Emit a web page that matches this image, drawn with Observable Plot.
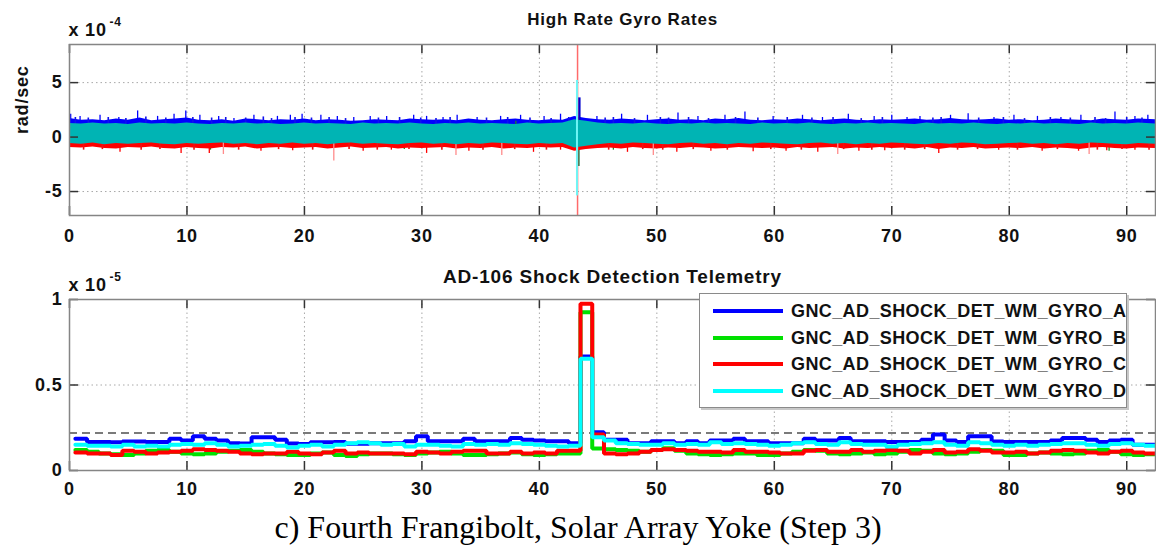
<!DOCTYPE html>
<html>
<head>
<meta charset="utf-8">
<script src="https://cdn.jsdelivr.net/npm/d3@7"></script>
<script src="https://cdn.jsdelivr.net/npm/@observablehq/plot@0.6"></script>
<style>
  body { margin: 0; background: #fff; }
  #wrap { position: relative; width: 1156px; height: 549px; overflow: hidden; background: #fff;
          font-family: "Liberation Sans", Arial, sans-serif; }
  #top { position: absolute; left: 0; top: 0; }
  #bottom { position: absolute; left: 0; top: 248px; }
  #legend { position: absolute; left: 699px; top: 293px; width: 428px; height: 115px;
            box-sizing: border-box; border: 1px solid #8a8a8a; background: #fff;
            box-shadow: 2px 2px 0 #c8c8c8; }
  .entry { position: absolute; left: 0; height: 26px; width: 100%; }
  .swatch { position: absolute; left: 13px; top: 11px; width: 70px; height: 4px; }
  .name { position: absolute; left: 91px; top: 0; line-height: 26px; font-size: 18px; font-weight: bold;
          letter-spacing: 0.4px; color: #111; white-space: nowrap; }
  #caption { position: absolute; left: 0; top: 511px; width: 1156px; text-align: center; line-height: 32px;
             font-family: "Liberation Serif", "Times New Roman", serif; font-size: 32px; color: #000; }
</style>
</head>
<body>
<div id="wrap">
  <div id="top"></div>
  <div id="bottom"></div>
  <div id="legend"></div>
  <div id="caption">c) Fourth Frangibolt, Solar Array Yoke (Step 3)</div>
</div>
<script>
// ---------- shared axis settings ----------
const xMax = 92.45;
const xTicks = [0, 10, 20, 30, 40, 50, 60, 70, 80, 90];

// ---------- High Rate Gyro Rates (units of 1e-4 rad/sec), 1 s envelope samples ----------
const gyroT = [
  0, 1, 2, 3, 4, 5, 6, 7, 8, 9,
  10, 11, 12, 13, 14, 15, 16, 17, 18, 19,
  20, 21, 22, 23, 24, 25, 26, 27, 28, 29,
  30, 31, 32, 33, 34, 35, 36, 37, 38, 39,
  40, 41, 42, 43, 44, 45, 46, 47, 48, 49,
  50, 51, 52, 53, 54, 55, 56, 57, 58, 59,
  60, 61, 62, 63, 64, 65, 66, 67, 68, 69,
  70, 71, 72, 73, 74, 75, 76, 77, 78, 79,
  80, 81, 82, 83, 84, 85, 86, 87, 88, 89,
  90, 91, 92.45
];
// upper edge of gyro A (blue) noise
const blueHi = [
  1.70, 1.55, 1.60, 1.50, 1.65, 1.55, 1.75, 1.50, 1.60, 1.65,
  1.75, 1.55, 1.50, 1.60, 1.45, 1.65, 1.60, 1.50, 1.60, 1.55,
  1.65, 1.50, 1.60, 1.55, 1.45, 1.50, 1.60, 1.55, 1.50, 1.65,
  1.60, 1.55, 1.60, 1.50, 1.65, 1.55, 1.50, 1.60, 1.65, 1.55,
  1.50, 1.60, 1.55, 1.90, 1.70, 1.60, 1.55, 1.65, 1.60, 1.50,
  1.60, 1.65, 1.55, 1.60, 1.50, 1.65, 1.60, 1.70, 1.55, 1.50,
  1.60, 1.55, 1.65, 1.60, 1.50, 1.60, 1.65, 1.55, 1.50, 1.60,
  1.55, 1.60, 1.65, 1.55, 1.60, 1.70, 1.60, 1.55, 1.60, 1.65,
  1.55, 1.60, 1.50, 1.55, 1.65, 1.60, 1.55, 1.50, 1.65, 1.60,
  1.55, 1.65, 1.60
];
// lower edge of gyro C (red) noise
const redLo = [
  -0.95, -1.00, -0.90, -1.05, -1.10, -0.95, -1.00, -0.90, -1.05, -1.10,
  -0.95, -1.05, -1.10, -0.95, -1.00, -0.90, -1.10, -1.00, -0.95, -1.05,
  -1.00, -0.95, -1.10, -1.00, -0.90, -1.05, -1.00, -0.95, -1.10, -1.00,
  -1.05, -1.00, -0.95, -1.10, -1.00, -1.05, -0.95, -1.10, -1.00, -1.05,
  -0.95, -1.00, -0.95, -1.30, -1.15, -1.05, -1.00, -1.10, -0.95, -1.05,
  -1.10, -1.00, -1.05, -0.95, -1.00, -1.10, -1.05, -0.95, -1.00, -1.05,
  -1.00, -1.10, -0.95, -1.05, -1.00, -0.95, -1.10, -1.00, -1.05, -0.95,
  -1.05, -1.00, -1.10, -0.95, -1.15, -1.00, -1.05, -0.95, -1.10, -1.05,
  -1.00, -1.05, -0.95, -1.10, -1.00, -1.05, -1.15, -1.00, -0.95, -1.05,
  -1.10, -1.00, -1.05
];
// gyro D (cyan) noise band
const tealHi = [
  1.25, 1.20, 1.30, 1.20, 1.25, 1.15, 1.30, 1.20, 1.25, 1.20,
  1.30, 1.20, 1.15, 1.25, 1.20, 1.30, 1.20, 1.25, 1.15, 1.20,
  1.30, 1.20, 1.25, 1.20, 1.15, 1.30, 1.20, 1.25, 1.20, 1.30,
  1.20, 1.15, 1.25, 1.20, 1.30, 1.20, 1.25, 1.20, 1.15, 1.30,
  1.20, 1.25, 1.30, 1.60, 1.45, 1.30, 1.20, 1.25, 1.20, 1.30,
  1.20, 1.15, 1.25, 1.20, 1.30, 1.20, 1.25, 1.20, 1.15, 1.30,
  1.20, 1.25, 1.20, 1.30, 1.20, 1.15, 1.25, 1.20, 1.30, 1.20,
  1.25, 1.20, 1.15, 1.30, 1.20, 1.25, 1.20, 1.30, 1.20, 1.15,
  1.25, 1.20, 1.30, 1.20, 1.25, 1.20, 1.15, 1.30, 1.20, 1.25,
  1.20, 1.30, 1.20
];
const tealLo = [
  -0.60, -0.65, -0.55, -0.70, -0.60, -0.65, -0.60, -0.55, -0.65, -0.70,
  -0.60, -0.65, -0.60, -0.55, -0.65, -0.60, -0.70, -0.60, -0.65, -0.55,
  -0.65, -0.60, -0.70, -0.60, -0.55, -0.65, -0.60, -0.65, -0.70, -0.60,
  -0.55, -0.65, -0.60, -0.70, -0.60, -0.65, -0.55, -0.60, -0.65, -0.70,
  -0.60, -0.65, -0.60, -1.00, -0.85, -0.70, -0.60, -0.65, -0.55, -0.60,
  -0.65, -0.70, -0.60, -0.55, -0.65, -0.60, -0.70, -0.60, -0.65, -0.55,
  -0.60, -0.65, -0.70, -0.60, -0.55, -0.65, -0.60, -0.70, -0.60, -0.65,
  -0.55, -0.60, -0.65, -0.70, -0.60, -0.65, -0.55, -0.60, -0.70, -0.65,
  -0.60, -0.55, -0.65, -0.60, -0.70, -0.60, -0.65, -0.55, -0.60, -0.65,
  -0.70, -0.60, -0.65
];
// individual noise peaks [time s, value]
const blueSpikes = [
  [0.1, 2.1], [0.9, 1.9], [2.6, 2.0], [4.2, 1.8], [5.8, 2.4], [7.5, 1.9], [8.9, 2.1], [9.9, 2.4],
  [11.1, 2.0], [12.7, 1.9], [14.0, 1.7], [15.7, 2.0], [17.7, 1.9], [18.8, 2.0], [19.8, 2.1],
  [21.4, 2.0], [22.8, 1.9], [24.2, 1.8], [25.6, 1.9], [27.0, 1.9], [29.3, 2.0], [30.4, 1.9],
  [31.8, 1.8], [33.0, 2.0], [34.7, 1.8], [36.7, 1.9], [38.4, 2.0], [40.4, 1.9], [41.8, 2.1],
  [44.9, 1.9], [47.0, 2.1], [49.2, 2.0], [51.8, 2.2], [53.5, 1.9], [55.8, 2.0], [57.5, 2.3],
  [59.9, 1.9], [62.4, 2.0], [64.1, 1.8], [66.3, 2.1], [68.5, 1.9], [70.0, 2.0], [71.3, 1.8],
  [72.4, 1.9], [75.0, 2.0], [76.5, 2.15], [78.7, 1.8], [80.4, 2.0], [82.4, 1.9], [84.4, 1.8],
  [86.1, 2.0], [89.0, 2.3], [90.7, 1.9], [91.8, 2.0]
];
// smaller peaks along the blue edge
const blueMinorSpikes = [
  [0.5, 1.8], [1.6, 1.75], [3.3, 1.8], [4.8, 1.7], [6.5, 1.85], [8.2, 1.75], [10.5, 1.8], [12.1, 1.75],
  [13.3, 1.8], [15.0, 1.75], [16.5, 1.85], [17.2, 1.7], [19.2, 1.8], [20.6, 1.75], [22.1, 1.8],
  [23.5, 1.7], [26.3, 1.75], [28.1, 1.8], [29.9, 1.75], [31.2, 1.7], [32.4, 1.8], [35.5, 1.75],
  [37.3, 1.8], [39.2, 1.75], [41.0, 1.7], [42.5, 1.8], [45.6, 1.75], [46.3, 1.8], [48.1, 1.7],
  [50.3, 1.8], [51.0, 1.75], [52.7, 1.8], [54.4, 1.7], [56.7, 1.8], [58.6, 1.75], [61.1, 1.8],
  [63.2, 1.75], [65.0, 1.8], [67.4, 1.7], [69.2, 1.8], [73.5, 1.75], [74.2, 1.8], [77.4, 1.75],
  [79.5, 1.8], [81.3, 1.7], [83.5, 1.8], [85.2, 1.75], [87.3, 1.8], [88.2, 1.7], [90.0, 1.8], [91.3, 1.75]
];
const redSpikes = [
  [4.3, -1.4], [9.5, -1.5], [11.9, -1.5], [16.3, -1.3], [19.0, -1.25], [25.0, -1.3], [27.4, -1.2],
  [30.4, -1.5], [34.0, -1.3], [39.5, -1.4], [41.8, -1.2], [47.5, -1.4], [51.7, -1.4], [54.6, -1.3],
  [58.2, -1.35], [61.0, -1.3], [63.7, -1.4], [67.2, -1.3], [69.4, -1.25], [74.0, -1.5], [79.1, -1.2],
  [82.8, -1.3], [85.9, -1.3], [88.3, -1.25], [90.7, -1.2]
];
const redMinorSpikes = [
  [1.2, -1.2], [2.8, -1.15], [6.1, -1.2], [7.7, -1.15], [10.6, -1.2], [14.4, -1.2], [17.8, -1.15],
  [20.7, -1.2], [23.8, -1.15], [26.2, -1.2], [28.9, -1.15], [31.7, -1.2], [35.2, -1.2], [37.9, -1.15],
  [40.6, -1.2], [45.9, -1.2], [48.8, -1.15], [50.5, -1.2], [53.1, -1.15], [56.0, -1.2], [59.7, -1.15],
  [62.3, -1.2], [65.9, -1.15], [68.3, -1.2], [71.1, -1.2], [72.8, -1.15], [75.6, -1.2], [77.3, -1.15],
  [80.7, -1.2], [84.1, -1.15], [87.5, -1.2], [89.6, -1.15], [91.9, -1.2]
];
const redFaintSpikes = [
  [13.1, -1.6], [22.5, -2.2], [32.9, -1.7], [36.8, -1.7], [49.7, -1.7], [65.4, -1.6], [86.8, -1.6]
];
const greenSpikes = [
  [12.0, -1.2], [28.5, -1.15], [38.0, 1.45], [46.3, -1.2], [88.5, -1.3]
];
// frangibolt firing transient: [time s, low, high]
const shockBlue = [[43.4, 1.2, 3.6]];
const shockGreen = [[43.3, -2.7, -0.5]];
const shockRed = [[43.25, -7.2, 8.5]];
const shockCyan = [[43.2, -5.4, 5.2]];

// ---------- AD-106 Shock Detection Telemetry (units of 1e-5), 1 s steps from t = 0.5 ----------
const seriesNames = [
  "GNC_AD_SHOCK_DET_WM_GYRO_A",
  "GNC_AD_SHOCK_DET_WM_GYRO_B",
  "GNC_AD_SHOCK_DET_WM_GYRO_C",
  "GNC_AD_SHOCK_DET_WM_GYRO_D"
];
const seriesColors = ["#0000ff", "#00e000", "#ff0000", "#00ffff"];
const threshold = 0.22;
const gyroA = [
  0.185, 0.166, 0.166, 0.165, 0.170, 0.170, 0.166, 0.166, 0.185, 0.175,
  0.200, 0.185, 0.175, 0.160, 0.158, 0.195, 0.195, 0.180, 0.158, 0.155,
  0.165, 0.165, 0.166, 0.156, 0.156, 0.160, 0.160, 0.160, 0.171, 0.200,
  0.171, 0.171, 0.171, 0.185, 0.171, 0.171, 0.171, 0.190, 0.180, 0.175,
  0.171, 0.171, 0.160, 0.667, 0.224, 0.180, 0.180, 0.160, 0.160, 0.171,
  0.171, 0.160, 0.171, 0.160, 0.175, 0.175, 0.185, 0.171, 0.171, 0.160,
  0.160, 0.160, 0.185, 0.175, 0.175, 0.190, 0.171, 0.171, 0.171, 0.166,
  0.166, 0.166, 0.180, 0.210, 0.175, 0.166, 0.200, 0.200, 0.170, 0.166,
  0.166, 0.166, 0.166, 0.175, 0.190, 0.190, 0.180, 0.166, 0.175, 0.180,
  0.150, 0.150
];
const gyroB = [
  0.120, 0.110, 0.100, 0.095, 0.090, 0.100, 0.115, 0.120, 0.110, 0.100,
  0.095, 0.100, 0.110, 0.115, 0.120, 0.110, 0.100, 0.095, 0.090, 0.090,
  0.100, 0.105, 0.090, 0.085, 0.095, 0.100, 0.100, 0.095, 0.090, 0.100,
  0.105, 0.110, 0.100, 0.090, 0.090, 0.095, 0.100, 0.105, 0.095, 0.090,
  0.095, 0.100, 0.100, 0.926, 0.128, 0.125, 0.120, 0.115, 0.110, 0.120,
  0.130, 0.115, 0.100, 0.095, 0.090, 0.095, 0.100, 0.100, 0.090, 0.090,
  0.100, 0.110, 0.120, 0.115, 0.100, 0.095, 0.100, 0.105, 0.095, 0.100,
  0.110, 0.120, 0.115, 0.100, 0.095, 0.100, 0.110, 0.120, 0.115, 0.090,
  0.090, 0.100, 0.105, 0.100, 0.095, 0.100, 0.115, 0.120, 0.110, 0.095,
  0.090, 0.095
];
const gyroC = [
  0.105, 0.100, 0.100, 0.090, 0.115, 0.110, 0.100, 0.105, 0.110, 0.115,
  0.125, 0.120, 0.115, 0.110, 0.100, 0.095, 0.100, 0.100, 0.110, 0.100,
  0.095, 0.105, 0.115, 0.100, 0.105, 0.100, 0.100, 0.100, 0.095, 0.110,
  0.105, 0.100, 0.110, 0.115, 0.115, 0.100, 0.100, 0.110, 0.100, 0.105,
  0.100, 0.115, 0.115, 0.975, 0.210, 0.100, 0.095, 0.100, 0.110, 0.120,
  0.125, 0.120, 0.115, 0.110, 0.110, 0.105, 0.120, 0.110, 0.110, 0.105,
  0.100, 0.100, 0.115, 0.120, 0.110, 0.110, 0.120, 0.110, 0.115, 0.120,
  0.115, 0.100, 0.110, 0.120, 0.105, 0.110, 0.125, 0.115, 0.105, 0.105,
  0.110, 0.100, 0.105, 0.115, 0.120, 0.115, 0.105, 0.100, 0.110, 0.115,
  0.105, 0.100
];
const gyroD = [
  0.150, 0.145, 0.145, 0.140, 0.150, 0.140, 0.145, 0.140, 0.150, 0.155,
  0.150, 0.160, 0.150, 0.140, 0.145, 0.150, 0.155, 0.145, 0.135, 0.145,
  0.150, 0.140, 0.150, 0.160, 0.165, 0.160, 0.150, 0.155, 0.140, 0.150,
  0.150, 0.145, 0.140, 0.155, 0.150, 0.155, 0.150, 0.160, 0.155, 0.150,
  0.145, 0.140, 0.145, 0.653, 0.195, 0.175, 0.160, 0.155, 0.150, 0.150,
  0.160, 0.150, 0.155, 0.150, 0.165, 0.155, 0.160, 0.155, 0.150, 0.145,
  0.150, 0.160, 0.165, 0.155, 0.150, 0.165, 0.155, 0.150, 0.150, 0.140,
  0.150, 0.155, 0.160, 0.165, 0.150, 0.145, 0.165, 0.160, 0.150, 0.145,
  0.150, 0.145, 0.150, 0.155, 0.160, 0.160, 0.150, 0.145, 0.155, 0.160,
  0.150, 0.145
];
const stepStart = 0.5;

// ---------- build tables ----------
const gyroRows = gyroT.map((t, i) => ({t, blueHi: blueHi[i], redLo: redLo[i], tealHi: tealHi[i], tealLo: tealLo[i]}));
const pairRows = (arr) => arr.map(([t, v]) => ({t, v}));
const rangeRows = (arr) => arr.map(([t, lo, hi]) => ({t, lo, hi}));

const stepSeries = [gyroA, gyroB, gyroC, gyroD];
const stepRows = stepSeries.map((vals) => {
  const rows = vals.map((v, i) => ({t: stepStart + i, v}));
  rows.push({t: xMax, v: vals[vals.length - 1]});
  return rows;
});

// ---------- common frame decorations (MATLAB-style inward ticks, dotted grid) ----------
const innerH = 171, innerW = 1086;
function gridLines(yGrid) {
  return [
    Plot.ruleX(xTicks.slice(1), {stroke: "#a8a8a8", strokeWidth: 1, strokeDasharray: "1.5,3"}),
    Plot.ruleY(yGrid, {stroke: "#a8a8a8", strokeWidth: 1, strokeDasharray: "1.5,3"})
  ];
}
function frameTicks(yTicks) {
  return [
    Plot.ruleX(xTicks, {stroke: "#333", strokeWidth: 1.5, insetTop: innerH - 9}),
    Plot.ruleX(xTicks, {stroke: "#333", strokeWidth: 1.5, insetBottom: innerH - 9}),
    Plot.ruleY(yTicks, {stroke: "#333", strokeWidth: 1.5, insetRight: innerW - 9}),
    Plot.ruleY(yTicks, {stroke: "#333", strokeWidth: 1.5, insetLeft: innerW - 9}),
    Plot.frame({stroke: "#858585", strokeWidth: 1.5})
  ];
}
const baseStyle = {
  fontFamily: "'Liberation Sans', Arial, sans-serif",
  fontSize: "18px",
  fontWeight: "bold",
  letterSpacing: "0.8px",
  color: "#111",
  background: "transparent",
  overflow: "visible"
};
const fmt = (d) => String(d);
const label = (s, opts) => Plot.text([s], {text: d => d, fontWeight: "bold", ...opts});

// ---------- top panel ----------
const topYTicks = [-5, 0, 5];
const topPlot = Plot.plot({
  width: 1156,
  height: 248,
  marginTop: 44,
  marginBottom: 33,
  marginLeft: 69,
  marginRight: 1,
  style: baseStyle,
  x: {domain: [0, xMax], ticks: xTicks, tickSize: 0, tickPadding: 14, tickFormat: fmt, label: null},
  y: {domain: [-7.2, 8.5], ticks: topYTicks, tickSize: 0, tickPadding: 7, tickFormat: fmt, label: null},
  marks: [
    ...gridLines([-5, 5]),
    // gyro A
    Plot.areaY(gyroRows, {x: "t", y: "blueHi", fill: "#0000ff"}),
    Plot.ruleX(pairRows(blueSpikes), {x: "t", y1: 1, y2: "v", stroke: "#0000ff", strokeWidth: 1.3}),
    Plot.ruleX(pairRows(blueMinorSpikes), {x: "t", y1: 1, y2: "v", stroke: "#1010ee", strokeWidth: 1.6}),
    Plot.ruleX(rangeRows(shockBlue), {x: "t", y1: "lo", y2: "hi", stroke: "#0000cc", strokeWidth: 2.5}),
    // gyro B
    Plot.ruleX(pairRows(greenSpikes), {x: "t", y1: 0, y2: "v", stroke: "#1f8a1f", strokeWidth: 1.3}),
    Plot.ruleX(rangeRows(shockGreen), {x: "t", y1: "lo", y2: "hi", stroke: "#1c7a4c", strokeWidth: 3}),
    // gyro C
    Plot.areaY(gyroRows, {x: "t", y: "redLo", fill: "#ff0000"}),
    Plot.ruleX(pairRows(redSpikes), {x: "t", y1: -0.5, y2: "v", stroke: "#ff0000", strokeWidth: 1.3}),
    Plot.ruleX(pairRows(redMinorSpikes), {x: "t", y1: -0.5, y2: "v", stroke: "#f01010", strokeWidth: 1.6}),
    Plot.ruleX(pairRows(redFaintSpikes), {x: "t", y1: -0.5, y2: "v", stroke: "#ff8c8c", strokeWidth: 1.3}),
    Plot.ruleX(rangeRows(shockRed), {x: "t", y1: "lo", y2: "hi", stroke: "#ff6a6a", strokeWidth: 1.5}),
    // gyro D
    Plot.areaY(gyroRows, {x: "t", y1: "tealLo", y2: "tealHi", fill: "#00b4b4"}),
    Plot.ruleX(rangeRows(shockCyan), {x: "t", y1: "lo", y2: "hi", stroke: "#6ff5f5", strokeWidth: 2}),
    ...frameTicks(topYTicks),
    // labels
    label("High Rate Gyro Rates", {frameAnchor: "top", dx: 10, dy: -20, lineAnchor: "bottom", fontSize: 17}),
    label("x 10", {frameAnchor: "top-left", textAnchor: "start", dx: -1, dy: -9, lineAnchor: "bottom", fontSize: 18}),
    label("-4", {frameAnchor: "top-left", textAnchor: "start", dx: 40, dy: -19, lineAnchor: "bottom", fontSize: 12}),
    label("rad/sec", {frameAnchor: "left", dx: -47, dy: 4, rotate: -90, fontSize: 18})
  ]
});
document.getElementById("top").append(topPlot);

// ---------- bottom panel ----------
const botYTicks = [0, 0.5, 1];
const botPlot = Plot.plot({
  width: 1156,
  height: 257,
  marginTop: 51,
  marginBottom: 35,
  marginLeft: 69,
  marginRight: 1,
  style: baseStyle,
  x: {domain: [0, xMax], ticks: xTicks, tickSize: 0, tickPadding: 12, tickFormat: fmt, label: null},
  y: {domain: [0, 1], ticks: botYTicks, tickSize: 0, tickPadding: 7, tickFormat: fmt, label: null},
  marks: [
    ...gridLines([0.5]),
    Plot.ruleY([threshold], {stroke: "#7a7a7a", strokeWidth: 2, strokeDasharray: "8,5"}),
    ...stepRows.map((rows, k) => Plot.line(rows, {
      x: "t", y: "v", curve: "step-after",
      stroke: seriesColors[k], strokeWidth: 4, strokeLinejoin: "miter"
    })),
    ...frameTicks(botYTicks),
    label("AD-106 Shock Detection Telemetry", {frameAnchor: "top", dy: -17, lineAnchor: "bottom", fontSize: 19}),
    label("x 10", {frameAnchor: "top-left", textAnchor: "start", dx: -1, dy: -9, lineAnchor: "bottom", fontSize: 18}),
    label("-5", {frameAnchor: "top-left", textAnchor: "start", dx: 40, dy: -19, lineAnchor: "bottom", fontSize: 12})
  ]
});
document.getElementById("bottom").append(botPlot);

// ---------- legend ----------
const legend = document.getElementById("legend");
seriesNames.forEach((name, k) => {
  const row = document.createElement("div");
  row.className = "entry";
  row.style.top = (4 + k * 26.7) + "px";
  const sw = document.createElement("div");
  sw.className = "swatch";
  sw.style.background = seriesColors[k];
  const tx = document.createElement("div");
  tx.className = "name";
  tx.textContent = name;
  row.append(sw, tx);
  legend.append(row);
});
</script>
</body>
</html>
